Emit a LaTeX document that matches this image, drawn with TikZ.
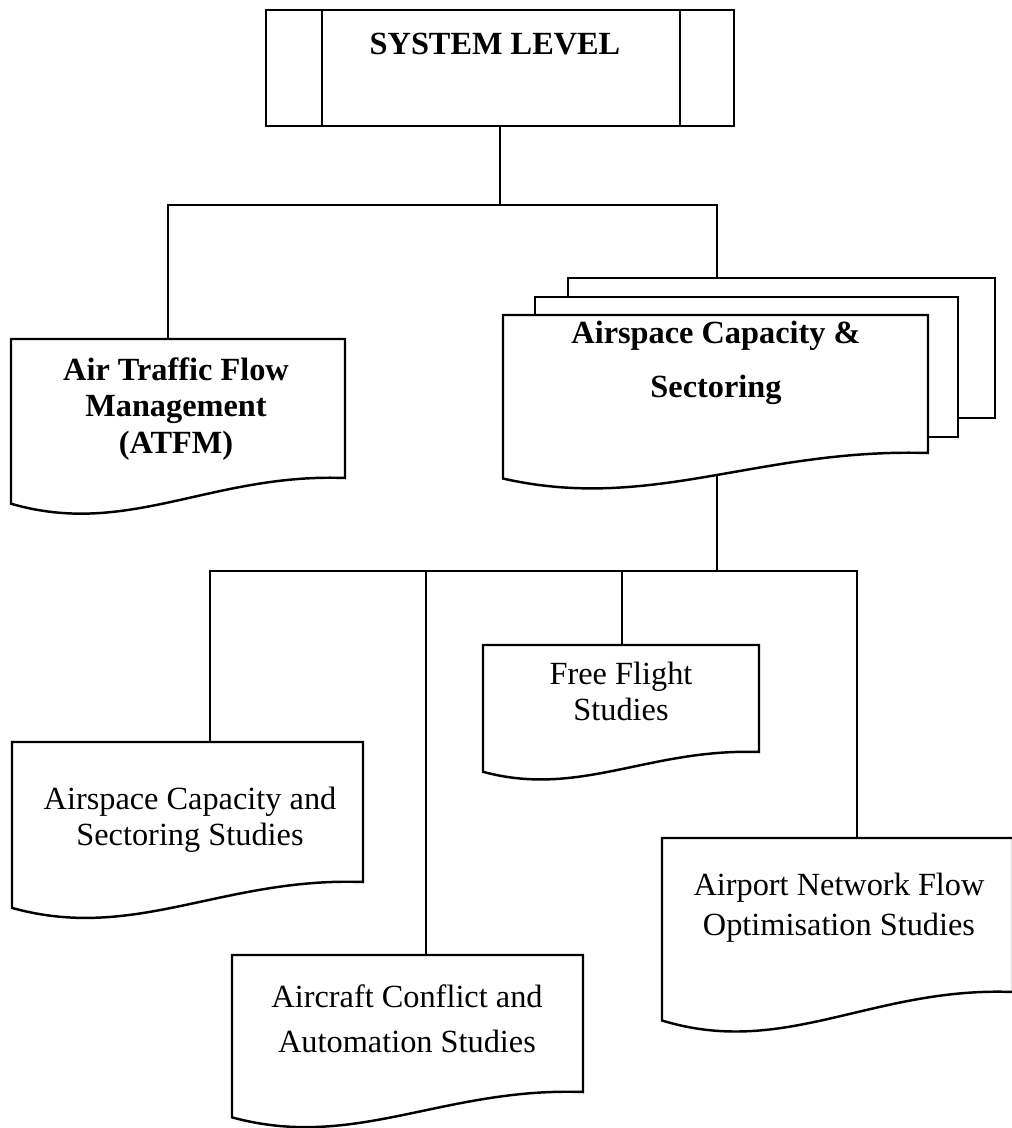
\documentclass[tikz,border=0pt]{standalone}
\usepackage{fontspec}
\setmainfont{Liberation Serif}
\usetikzlibrary{calc,fit}

% one unit = one pixel of the 1011 x 1128 sheet, y grows downwards
\tikzset{
  wire/.style={line width=1.4pt},
  frame/.style={inner sep=0pt, outer sep=0pt},
  outline/.style={line width=1.4pt, fill=white, line join=miter},
  caption/.style={anchor=base, inner sep=0pt, font=\fontsize{18.4}{21}\selectfont},
  boldcaption/.style={anchor=base, inner sep=0pt, font=\fontsize{18.4}{21}\selectfont\bfseries},
}

% document symbol: rectangle whose bottom edge is a wave, drawn around a frame node
\newcommand\docpath[1]{%
  \draw[outline] let \p1=(#1.north west), \p2=(#1.south east),
      \n1={\x2-\x1}, \n2={\y1-\y2} in
    (\p1) -- (\x2,\y1) -- (\p2)
    .. controls (\x1+0.6*\n1, \y2+0.036*\n2) and (\x1+0.35*\n1, \y2-0.43*\n2)
    .. (\x1, \y2-0.185*\n2) -- cycle;}

% centred lines, baseline of the node on the first line
\newcommand\textlines[1]{\begin{tabular}[t]{@{}c@{}}#1\end{tabular}}

\begin{document}
\begin{tikzpicture}[x=0.02cm, y=-0.02cm]
\useasboundingbox (0,0) rectangle (1011,1128);

% frames of the blocks
\node[frame, fit={(266,10) (734,126)}]   (sys)  {};
\node[frame, fit={(11,339) (345,478)}]   (atfm) {};
\node[frame, fit={(503,315) (928,453)}]  (acsA) {};
\node[frame, fit={(535,297) (958,437)}]  (acsB) {};
\node[frame, fit={(568,278) (995,418)}]  (acsC) {};
\node[frame, fit={(12,742) (363,882)}]   (acss) {};
\node[frame, fit={(232,955) (583,1092)}] (aca)  {};
\node[frame, fit={(483,645) (759,752)}]  (ff)   {};
\node[frame, fit={(662,838) (1013,992)}] (anf)  {};

% junctions of the two buses
\coordinate (bL) at (168,205);
\coordinate (bR) at (717,205);
\coordinate (cL) at (210,571);
\coordinate (c2) at (426,571);
\coordinate (c3) at (622,571);
\coordinate (cR) at (857,571);

% connectors (drawn first, the filled blocks cover their hidden ends)
\draw[wire] (sys.south) -- (sys.south |- bL);
\draw[wire] (atfm.north -| bL) -- (bL) -- (bR) -- (acsC.north -| bR);
\draw[wire] (acsA.south -| bR) -- (bR |- cL);
\draw[wire] (acss.north -| cL) -- (cL) -- (cR) -- (anf.north -| cR);
\draw[wire] (c2) -- (aca.north -| c2);
\draw[wire] (c3) -- (ff.north -| c3);

% predefined-process box
\draw[outline] (sys.north west) rectangle (sys.south east);
\draw[wire] ($(sys.north west)+(56,0)$) -- ($(sys.south west)+(56,0)$);
\draw[wire] ($(sys.north east)+(-54,0)$) -- ($(sys.south east)+(-54,0)$);

% stacked pages behind the front document
\draw[outline] (acsC.north west) rectangle (acsC.south east);
\draw[outline] (acsB.north west) rectangle (acsB.south east);
\docpath{acsA}

% single documents
\docpath{atfm}
\docpath{acss}
\docpath{aca}
\docpath{ff}
\docpath{anf}

% labels
\node[boldcaption] (sys-t)  at (495,55)  {SYSTEM LEVEL};
\node[boldcaption] (atfm-t) at (176,380) {\textlines{Air Traffic Flow\\Management\\(ATFM)}};
\node[boldcaption] (acsA-t) at (716,343) {\textlines{Airspace Capacity \&\\[10pt]Sectoring}};
\node[caption]     (acss-t) at (190,809) {\textlines{Airspace Capacity and\\Sectoring Studies}};
\node[caption]     (aca-t)  at (407,1007) {\textlines{Aircraft Conflict and\\[5pt]Automation Studies}};
\node[caption]     (ff-t)   at (621,684) {\textlines{Free Flight\\Studies}};
\node[caption]     (anf-t)  at (839,895) {\textlines{Airport Network Flow\\[1.8pt]Optimisation Studies}};
\end{tikzpicture}
\end{document}
